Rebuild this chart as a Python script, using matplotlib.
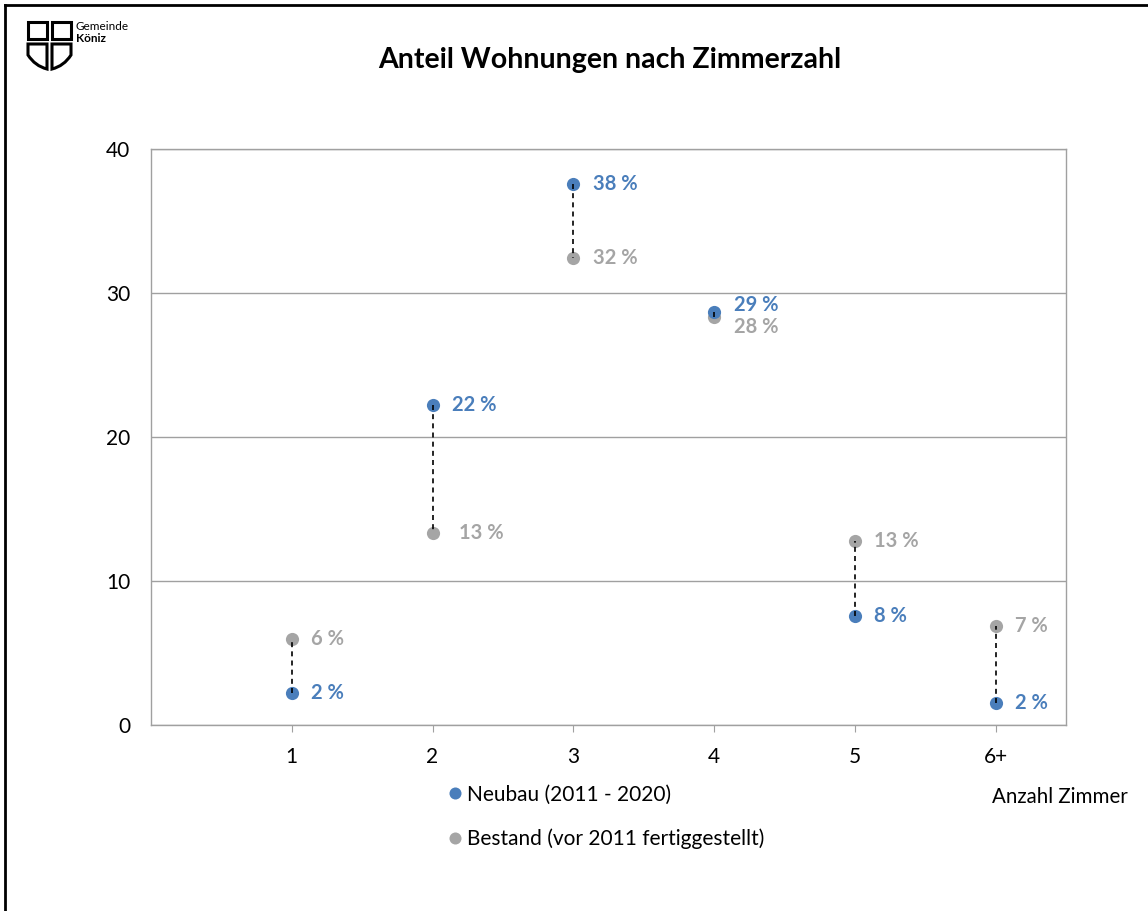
import matplotlib.pyplot as plt
from matplotlib.patches import Rectangle, PathPatch
from matplotlib.path import Path

plt.rcParams['font.family'] = ['Lato', 'DejaVu Sans']

zimmer = ['1', '2', '3', '4', '5', '6+']
neubau = [2.2, 22.2, 37.6, 28.7, 7.6, 1.5]
bestand = [6.0, 13.3, 32.4, 28.3, 12.8, 6.9]
neubau_lbl = ['2 %', '22 %', '38 %', '29 %', '8 %', '2 %']
bestand_lbl = ['6 %', '13 %', '32 %', '28 %', '13 %', '7 %']

blue = '#4a7ebb'
grey = '#a5a5a5'
axcol = '#a0a0a0'

W, H = 1148, 911
fig = plt.figure(figsize=(W / 100, H / 100), dpi=100)
ax = fig.add_axes([151 / W, 1 - 725 / H, 915 / W, 576 / H])

xs = list(range(1, len(zimmer) + 1))
for x, a, b in zip(xs, neubau, bestand):
    ax.plot([x, x], [a, b], color='black', lw=1.2, ls=(0, (3, 2.5)), zorder=4)
ax.scatter(xs, bestand, s=90, color=grey, zorder=3, linewidths=0)
ax.scatter(xs, neubau, s=90, color=blue, zorder=3, linewidths=0)

for i, x in enumerate(xs):
    # labels next to the points; pairs that nearly touch get nudged apart
    dn = db = 0
    if abs(neubau[i] - bestand[i]) < 2:
        dn, db = 5, -7
    ax.annotate(neubau_lbl[i], (x, neubau[i]), xytext=(14, dn), textcoords='offset points',
                va='center', ha='left', color=blue, fontsize=14.5, fontweight='bold')
    ax.annotate(bestand_lbl[i], (x, bestand[i]), xytext=(14 if i != 1 else 19, db),
                textcoords='offset points', va='center', ha='left', color=grey,
                fontsize=14.5, fontweight='bold')

ax.set_xlim(0, 6.5)
ax.set_ylim(0, 40)
ax.set_yticks([0, 10, 20, 30, 40])
ax.set_xticks(xs)
ax.set_xticklabels(zimmer)
ax.grid(axis='y', color=axcol, lw=1)
ax.set_axisbelow(True)
for sp in ax.spines.values():
    sp.set_color(axcol)
    sp.set_linewidth(1)
ax.tick_params(axis='y', length=0, pad=15, labelsize=15)
ax.tick_params(axis='x', length=5, color=axcol, pad=11, labelsize=15)

# overlay in pixel coordinates for title, legend, frame and logo
ov = fig.add_axes([0, 0, 1, 1], zorder=-1)
ov.set_xlim(0, W)
ov.set_ylim(H, 0)
ov.axis('off')

ov.plot([5, W], [5, 5], color='black', lw=2)
ov.plot([5, 5], [5, H], color='black', lw=2)

ov.text(610, 60, 'Anteil Wohnungen nach Zimmerzahl', ha='center', va='center',
        fontsize=20.5, fontweight='bold')

ov.scatter([455], [793], s=75, color=blue, linewidths=0)
ov.scatter([455], [838], s=75, color=grey, linewidths=0)
ov.text(467, 795, 'Neubau (2011 - 2020)', va='center', fontsize=15)
ov.text(467, 839, 'Bestand (vor 2011 fertiggestellt)', va='center', fontsize=15)
ov.text(992, 797, 'Anzahl Zimmer', va='center', fontsize=14.8)

# logo
ov.add_patch(Rectangle((28, 22), 19, 17, fill=False, lw=2.2, ec='black'))
ov.add_patch(Rectangle((52, 22), 19, 17, fill=False, lw=2.2, ec='black'))
left_half = Path([(28, 44), (47, 44), (47, 69), (35, 66), (28, 55), (28, 44)],
                 [Path.MOVETO, Path.LINETO, Path.LINETO, Path.CURVE3, Path.CURVE3, Path.CLOSEPOLY])
right_half = Path([(52, 44), (71, 44), (71, 55), (64, 66), (52, 69), (52, 44)],
                  [Path.MOVETO, Path.LINETO, Path.LINETO, Path.CURVE3, Path.CURVE3, Path.CLOSEPOLY])
ov.add_patch(PathPatch(left_half, fill=False, lw=2.2, ec='black'))
ov.add_patch(PathPatch(right_half, fill=False, lw=2.2, ec='black'))
ov.text(76, 26, 'Gemeinde', va='center', fontsize=8.5)
ov.text(76, 38, 'Köniz', va='center', fontsize=8.5, fontweight='bold')

fig.savefig('out.png', dpi=100)
